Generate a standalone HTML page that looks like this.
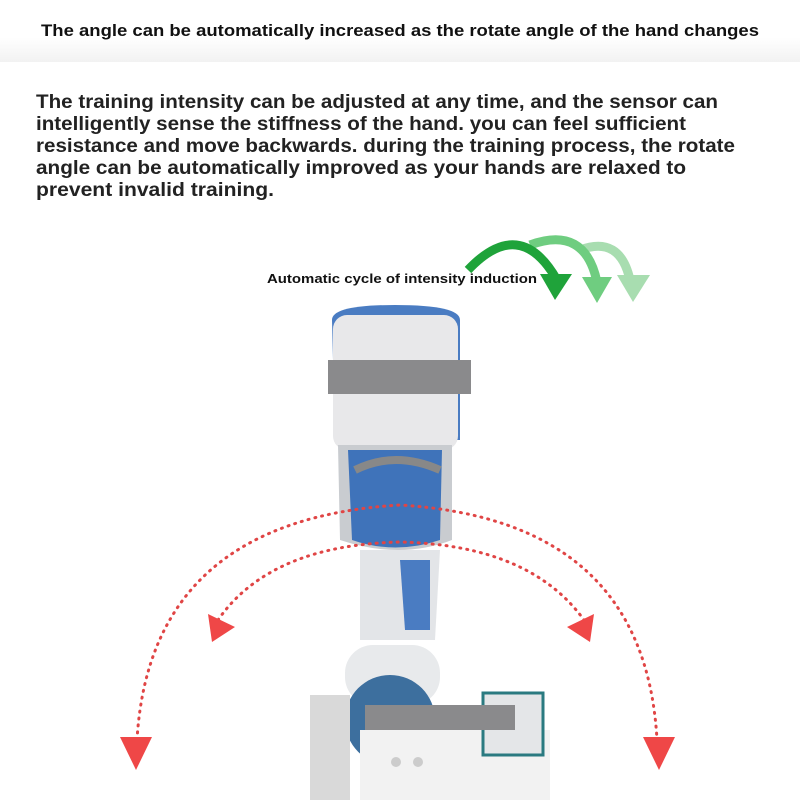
<!DOCTYPE html><html><head><style>body{margin:0;width:800px;height:800px;background:#fff;overflow:hidden;font-family:"Liberation Sans",sans-serif}</style></head><body>
<svg width="800" height="800" viewBox="0 0 800 800" xmlns="http://www.w3.org/2000/svg">
<defs><linearGradient id="bg" x1="0" y1="0" x2="0" y2="1"><stop offset="0" stop-color="#fff"/><stop offset="0.6" stop-color="#fff"/><stop offset="1" stop-color="#f2f2f2"/></linearGradient></defs>
<rect width="800" height="62" fill="url(#bg)"/>
<text x="41" y="36" textLength="718" lengthAdjust="spacingAndGlyphs" font-size="17" font-weight="bold" fill="#111">The angle can be automatically increased as the rotate angle of the hand changes</text>
<g font-size="19" font-weight="bold" fill="#222" lengthAdjust="spacingAndGlyphs">
<text x="36" y="108" textLength="682" lengthAdjust="spacingAndGlyphs">The training intensity can be adjusted at any time, and the sensor can</text>
<text x="36" y="130" textLength="650" lengthAdjust="spacingAndGlyphs">intelligently sense the stiffness of the hand. you can feel sufficient</text>
<text x="36" y="152" textLength="699" lengthAdjust="spacingAndGlyphs">resistance and move backwards. during the training process, the rotate</text>
<text x="36" y="174" textLength="650" lengthAdjust="spacingAndGlyphs">angle can be automatically improved as your hands are relaxed to</text>
<text x="36" y="196" textLength="238" lengthAdjust="spacingAndGlyphs">prevent invalid training.</text>
</g>
<text x="267" y="283" textLength="270" lengthAdjust="spacingAndGlyphs" font-size="13" font-weight="bold" fill="#111">Automatic cycle of intensity induction</text>
<g fill="none" stroke-width="9">
<path d="M580 250 Q620 235 630 280" stroke="#a8ddb0"/>
<path d="M530 245 Q585 225 597 282" stroke="#6fcd80"/>
<path d="M468 270 Q520 215 557 280" stroke="#1fa33a"/>
</g>
<polygon points="617,275 650,275 633,302" fill="#a8ddb0"/>
<polygon points="582,277 612,277 597,303" fill="#6fcd80"/>
<polygon points="540,274 572,274 555,300" fill="#1fa33a"/>
<path d="M332 320 Q332 305 395 305 Q460 305 460 320 L460 440 L335 440 Z" fill="#4a7cc2"/>
<rect x="333" y="315" width="125" height="135" rx="14" fill="#e8e8ea"/>
<rect x="328" y="360" width="143" height="34" fill="#8a8a8c"/>
<path d="M338 445 L452 445 L452 540 Q400 560 340 540 Z" fill="#c9ccd0"/>
<path d="M348 450 L442 450 L440 540 Q395 555 352 540 Z" fill="#3f73ba"/>
<path d="M355 470 Q395 450 440 470" stroke="#888" stroke-width="8" fill="none"/>
<path d="M360 550 L440 550 L435 640 L360 640 Z" fill="#e3e5e8"/>
<path d="M400 560 L430 560 L430 630 L405 630 Z" fill="#4a7cc2"/>
<rect x="345" y="645" width="95" height="60" rx="28" fill="#e8eaec"/>
<circle cx="390" cy="720" r="45" fill="#3d6f9e"/>
<rect x="310" y="695" width="40" height="105" fill="#d9d9d9"/>
<rect x="360" y="730" width="190" height="70" fill="#f2f2f2"/>
<rect x="483" y="693" width="60" height="62" fill="#e4e6e8" stroke="#2a7a80" stroke-width="3"/>
<rect x="365" y="705" width="150" height="25" fill="#8a8a8c"/>
<circle cx="396" cy="762" r="5" fill="#ccc"/><circle cx="418" cy="762" r="5" fill="#ccc"/>
<g fill="none" stroke="#e04545" stroke-width="3" stroke-dasharray="1 6" stroke-linecap="round">
<path d="M137 740 Q150 520 400 505 Q645 520 657 740"/>
<path d="M218 620 Q270 545 400 542 Q530 545 584 620"/>
</g>
<g fill="#ef4747">
<polygon points="120,737 152,737 136,770"/>
<polygon points="643,737 675,737 659,770"/>
<polygon points="208,614 235,627 212,642"/>
<polygon points="594,614 567,627 590,642"/>
</g>
</svg></body></html>
